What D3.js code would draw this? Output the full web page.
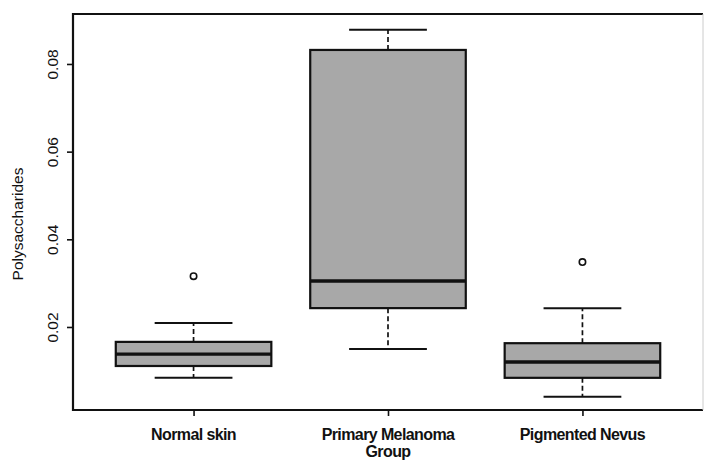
<!DOCTYPE html>
<html>
<head>
    <meta charset="utf-8" />
    <script src="https://d3js.org/d3.v7.min.js"></script>
    <style>
        body { margin: 0; background: #fff; }
        text { font-family: "Liberation Sans", Arial, sans-serif; fill: #111; }
    </style>
</head>
<body>
    <svg width="705" height="462"></svg>
    <script>
        // groups (second one wraps onto two lines)
        var groups = ["Normal skin", "Primary Melanoma Group", "Pigmented Nevus"];
        var groupLines = [["Normal skin"], ["Primary Melanoma", "Group"], ["Pigmented Nevus"]];

        // box stats
        var whiskerLow = [0.0084, 0.0150, 0.0041];
        var q1 = [0.0111, 0.0243, 0.0084];
        var median = [0.0138, 0.0305, 0.0120];
        var q3 = [0.0166, 0.0832, 0.0163];
        var whiskerHigh = [0.0209, 0.0878, 0.0243];
        var outliers = [[0.0316], [], [0.0348]];

        var yTicks = [0.02, 0.04, 0.06, 0.08];

        var svg = d3.select("svg"),
            plotL = 73, plotR = 703, plotT = 14, plotB = 410;

        var x = d3.scalePoint()
            .domain(groups)
            .range([plotL, plotR])
            .padding(0.62);

        var y = d3.scaleLinear()
            .domain([0.00106, 0.0914])
            .range([plotB, plotT]);

        var boxW = x.step() * 0.8;

        var data = groups.map(function (g, i) {
            return { name: g, lines: groupLines[i], lo: whiskerLow[i], q1: q1[i], med: median[i],
                q3: q3[i], hi: whiskerHigh[i], out: outliers[i] };
        });

        var box = svg.selectAll(".box")
            .data(data)
            .enter().append("g")
            .attr("class", "box");

        // dashed whiskers
        box.append("line")
            .attr("x1", function (d) { return x(d.name); })
            .attr("x2", function (d) { return x(d.name); })
            .attr("y1", function (d) { return y(d.q3); })
            .attr("y2", function (d) { return y(d.hi); })
            .attr("stroke", "#111").attr("stroke-width", 1.7).attr("stroke-dasharray", "5,3");
        box.append("line")
            .attr("x1", function (d) { return x(d.name); })
            .attr("x2", function (d) { return x(d.name); })
            .attr("y1", function (d) { return y(d.q1); })
            .attr("y2", function (d) { return y(d.lo); })
            .attr("stroke", "#111").attr("stroke-width", 1.7).attr("stroke-dasharray", "5,3");

        // caps
        ["hi", "lo"].forEach(function (k) {
            box.append("line")
                .attr("x1", function (d) { return x(d.name) - boxW / 4; })
                .attr("x2", function (d) { return x(d.name) + boxW / 4; })
                .attr("y1", function (d) { return y(d[k]); })
                .attr("y2", function (d) { return y(d[k]); })
                .attr("stroke", "#111").attr("stroke-width", 2);
        });

        // boxes
        box.append("rect")
            .attr("x", function (d) { return x(d.name) - boxW / 2; })
            .attr("y", function (d) { return y(d.q3); })
            .attr("width", boxW)
            .attr("height", function (d) { return y(d.q1) - y(d.q3); })
            .attr("fill", "#a8a8a8")
            .attr("stroke", "#111").attr("stroke-width", 2.2);

        // medians
        box.append("line")
            .attr("x1", function (d) { return x(d.name) - boxW / 2; })
            .attr("x2", function (d) { return x(d.name) + boxW / 2; })
            .attr("y1", function (d) { return y(d.med); })
            .attr("y2", function (d) { return y(d.med); })
            .attr("stroke", "#111").attr("stroke-width", 3.4);

        // outliers
        box.selectAll(".out")
            .data(function (d) { return d.out.map(function (v) { return { name: d.name, v: v }; }); })
            .enter().append("circle")
            .attr("cx", function (d) { return x(d.name); })
            .attr("cy", function (d) { return y(d.v); })
            .attr("r", 3.2)
            .attr("fill", "none")
            .attr("stroke", "#111").attr("stroke-width", 1.6);

        // frame (right edge is faint in the original)
        svg.append("path")
            .attr("d", "M" + plotR + "," + plotT + "H" + plotL + "V" + plotB + "H" + plotR)
            .attr("fill", "none").attr("stroke", "#111").attr("stroke-width", 2.2);
        svg.append("line")
            .attr("x1", plotR).attr("x2", plotR).attr("y1", plotT).attr("y2", plotB)
            .attr("stroke", "#ccc").attr("stroke-width", 1);

        // y axis
        var yAxis = svg.append("g")
            .attr("transform", "translate(" + plotL + ",0)")
            .call(d3.axisLeft(y).tickValues(yTicks).tickSize(6).tickFormat(d3.format(".2f")));
        yAxis.select(".domain").remove();
        yAxis.selectAll(".tick line").attr("stroke", "#111").attr("stroke-width", 1.6);
        yAxis.selectAll(".tick text")
            .attr("transform", "rotate(-90)")
            .attr("x", 0).attr("y", -15)
            .attr("dy", 0)
            .attr("text-anchor", "middle")
            .style("font-size", "15.5px")
            .style("font-family", "'Liberation Sans', Arial, sans-serif")
            .attr("fill", "#111");

        // x axis
        var xAxis = svg.append("g")
            .attr("transform", "translate(0," + plotB + ")")
            .call(d3.axisBottom(x).tickSize(6).tickFormat(""));
        xAxis.select(".domain").remove();
        xAxis.selectAll(".tick line").attr("stroke", "#111").attr("stroke-width", 1.6);

        svg.selectAll(".xlab")
            .data(data)
            .enter().append("text")
            .attr("class", "xlab")
            .attr("y", 440)
            .attr("text-anchor", "middle")
            .style("font-size", "16px")
            .style("font-weight", "bold")
            .style("letter-spacing", "-0.6px")
            .selectAll("tspan")
            .data(function (d) { return d.lines.map(function (t) { return { name: d.name, t: t }; }); })
            .enter().append("tspan")
            .attr("x", function (d) { return x(d.name); })
            .attr("dy", function (d, i) { return i ? 17 : 0; })
            .text(function (d) { return d.t; });

        // axis title
        svg.append("text")
            .attr("transform", "translate(23,224) rotate(-90)")
            .attr("text-anchor", "middle")
            .style("font-size", "15.5px")
            .text("Polysaccharides");
    </script>
</body>
</html>
